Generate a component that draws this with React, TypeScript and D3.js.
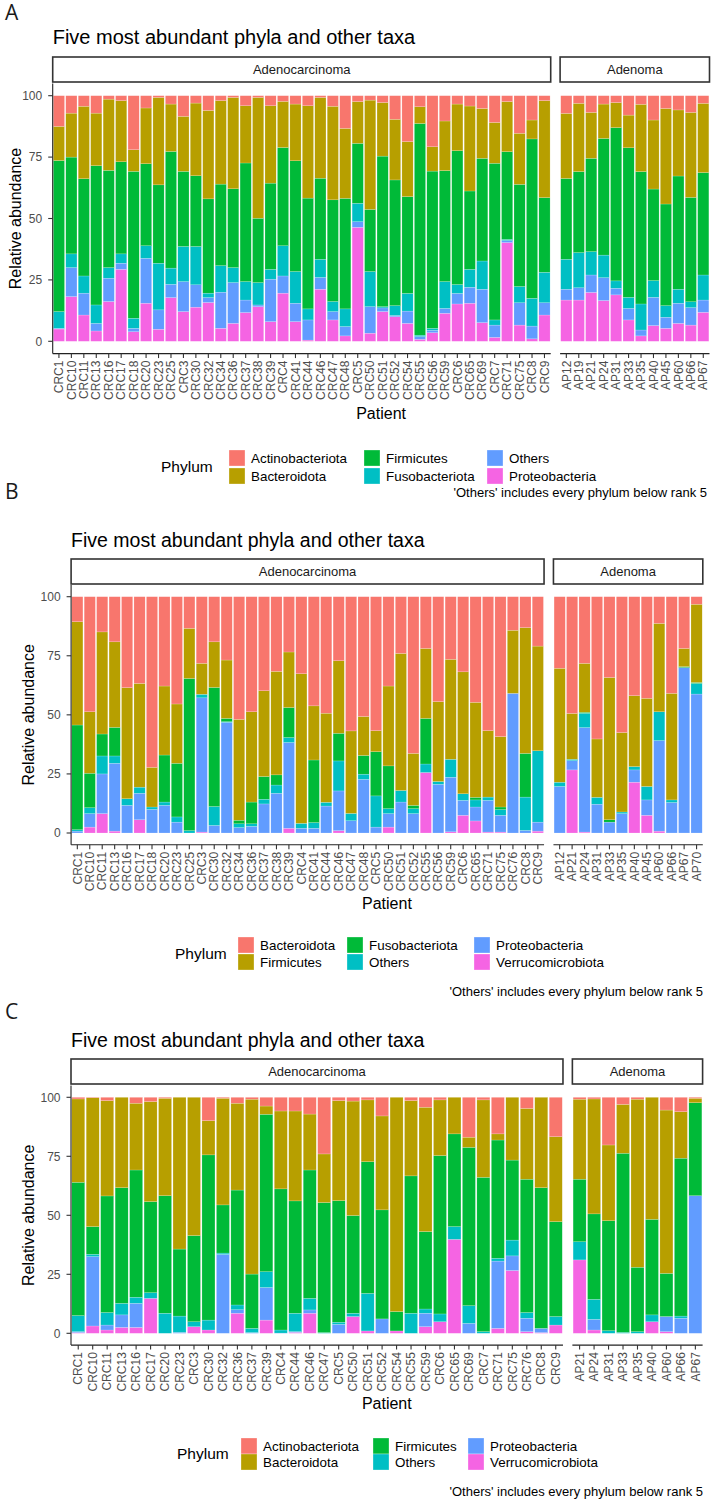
import React from 'react';
import * as d3 from 'd3';

const W = 711;
const H = 1500;
const FONT = "'Liberation Sans', Arial, Helvetica, sans-serif";
const HUE = ['#F8766D', '#B79F00', '#00BA38', '#00BFC4', '#619CFF', '#F564E3'];
const TITLE = 'Five most abundant phyla and other taxa';
const NOTE = "'Others' includes every phylum below rank 5";

// ── Panel A ────────────────────────────────────────────────────────────
const aCrc = ['CRC1', 'CRC10', 'CRC11', 'CRC13', 'CRC16', 'CRC17', 'CRC18', 'CRC20', 'CRC23', 'CRC25',
  'CRC3', 'CRC30', 'CRC32', 'CRC34', 'CRC36', 'CRC37', 'CRC38', 'CRC39', 'CRC4', 'CRC41',
  'CRC44', 'CRC46', 'CRC47', 'CRC48', 'CRC5', 'CRC50', 'CRC51', 'CRC52', 'CRC54', 'CRC55',
  'CRC56', 'CRC59', 'CRC6', 'CRC65', 'CRC69', 'CRC7', 'CRC71', 'CRC75', 'CRC8', 'CRC9'];
const aAp = ['AP12', 'AP19', 'AP21', 'AP24', 'AP31', 'AP33', 'AP35', 'AP40', 'AP45', 'AP60', 'AP66', 'AP67'];
const aPhyla = ['Actinobacteriota', 'Bacteroidota', 'Firmicutes', 'Fusobacteriota', 'Others', 'Proteobacteria'];
// values per phylum, CRC patients first then AP patients
const aActino = [12.5, 7.1, 4.3, 7.1, 1.4, 2, 22, 5, 0.7, 3.4, 8.4, 3, 6, 2, 0.7, 4.1, 0.7, 4.1, 2.3, 3.4,
  4.1, 0.7, 4.3, 13.3, 2.4, 1.8, 2.8, 9.6, 18.7, 4.5, 20.8, 10.3, 3.4, 4.2, 5.2, 10.9, 2.4, 15.3, 9.9, 2,
  7.2, 3.1, 6.8, 3.4, 2.8, 7.9, 3.5, 9.9, 5.2, 5.8, 6.8, 3.1];
const aBactero = [13.9, 17.9, 29.5, 21.4, 29, 24.9, 8.8, 22.7, 35.6, 19.3, 22.4, 29.6, 36, 34, 37.2, 23.3, 49.2, 31.5, 18.8, 23.1,
  37.6, 32.9, 38.1, 28.5, 17, 44.5, 21.8, 24.7, 22.4, 6.8, 9.9, 20.2, 19, 34.6, 20.3, 16.6, 20.4, 20.8, 7.7, 39.5,
  26.5, 27.8, 18.7, 14, 10.2, 13.3, 27.4, 28.1, 38.9, 26.9, 34.6, 28.2];
const aFirmi = [61.5, 39.4, 39.6, 56.7, 39.6, 37.5, 59.8, 33.4, 31.9, 47.5, 30.6, 28.8, 38.4, 33.2, 32.1, 48.3, 26.2, 35.1, 40, 45.1,
  45.1, 33, 41.4, 45, 24.4, 25.3, 61.3, 51.2, 39.4, 86.2, 64, 45.2, 54.5, 31.9, 41.8, 63.8, 35.7, 41.6, 64.9, 30.4,
  32.9, 33, 38, 47.5, 62.4, 60.9, 53.9, 37.3, 41.4, 46.1, 42.5, 41.7];
const aFuso = [6.8, 5.6, 7, 7.5, 4.3, 3.8, 4.1, 5.1, 19, 6.6, 14.3, 15.6, 1.8, 10.8, 6.1, 7.5, 9.1, 4, 12.3, 12.9,
  4.5, 7.4, 4.1, 7.2, 7.5, 14.3, 0.5, 4, 7.2, 0.6, 0.8, 10.9, 3.6, 7.3, 11.5, 2.1, 0.5, 6.6, 11.3, 12.4,
  12.2, 14.3, 9.5, 9.2, 3, 4.5, 10.6, 6.8, 4.7, 5.7, 2.4, 10.2];
const aOthers = [0.3, 11.8, 8.9, 3.1, 9.5, 2.5, 1.4, 18.3, 7.9, 5.4, 12.2, 9.1, 2, 14.7, 16.6, 5.1, 0.7, 17.3, 7, 7.5,
  8.2, 4.8, 3.4, 3.8, 2.3, 10.8, 1.5, 0.5, 5, 1.1, 1, 2, 4.3, 6.5, 13.6, 5, 0.8, 9.1, 5.2, 5,
  4.4, 5, 7.1, 9.3, 2.7, 4.7, 2.4, 11.5, 4.5, 8.2, 7.1, 5];
const aProteo = [5, 18.2, 10.7, 4.2, 16.2, 29.3, 3.9, 15.5, 4.9, 17.8, 12.1, 13.9, 15.8, 5.3, 7.3, 11.7, 14.1, 8, 19.6, 8,
  0.5, 21.2, 8.7, 2.2, 46.4, 3.3, 12.1, 10, 7.3, 0.8, 3.5, 11.4, 15.2, 15.5, 7.6, 1.6, 40.2, 6.6, 1, 10.7,
  16.8, 16.8, 19.9, 16.6, 18.9, 8.7, 2.2, 6.4, 5.3, 7.3, 6.6, 11.8];

// ── Panel B ────────────────────────────────────────────────────────────
const bCrc = ['CRC1', 'CRC10', 'CRC11', 'CRC13', 'CRC16', 'CRC17', 'CRC18', 'CRC20', 'CRC23', 'CRC25',
  'CRC3', 'CRC30', 'CRC32', 'CRC34', 'CRC36', 'CRC37', 'CRC38', 'CRC39', 'CRC4', 'CRC41',
  'CRC44', 'CRC46', 'CRC47', 'CRC48', 'CRC5', 'CRC50', 'CRC51', 'CRC52', 'CRC55', 'CRC56',
  'CRC59', 'CRC6', 'CRC65', 'CRC71', 'CRC75', 'CRC76', 'CRC8', 'CRC9'];
const bAp = ['AP12', 'AP21', 'AP24', 'AP31', 'AP33', 'AP35', 'AP40', 'AP45', 'AP60', 'AP66', 'AP67', 'AP70'];
const bPhyla = ['Bacteroidota', 'Firmicutes', 'Fusobacteriota', 'Others', 'Proteobacteria', 'Verrucomicrobiota'];
const bBactero = [10.6, 48.7, 14.9, 19.1, 38.5, 36.7, 72.2, 37.8, 45.4, 13.4, 28.2, 19.1, 26.8, 51.9, 48.7, 39.8, 31.6, 23.4, 32.6, 46.2,
  49.3, 27.1, 56.8, 50.7, 56.7, 37.8, 24, 66.3, 21.9, 44.4, 26.5, 31.8, 44.7, 56.7, 59.2, 14.2, 13.1, 20.9,
  30.3, 49.4, 28.2, 60.2, 34.2, 57.5, 41.9, 43, 11.3, 40.9, 21.9, 3.2];
const bFirmi = [43.7, 26, 43.2, 36.2, 47, 43.9, 16.8, 29.2, 25.1, 21.2, 13.1, 19.3, 24.7, 42.7, 38.2, 36.3, 43.8, 23.5, 63.3, 22.9,
  37.7, 30.7, 34.9, 16.5, 8.9, 33.8, 58, 22, 29.6, 33.8, 42.3, 51.6, 40.2, 28.1, 29.8, 26.7, 53.2, 44.3,
  48.2, 19.4, 20.7, 24.7, 60.2, 33.6, 30, 37.3, 37.4, 45.1, 7.7, 33.1];
const bFuso = [44.3, 14.6, 9.3, 12.1, 0, 0, 0, 19.9, 22.7, 64.4, 0, 50.4, 1.4, 1.5, 9.2, 9.6, 4.3, 12.7, 0, 26.5,
  0, 11.7, 0, 7.9, 18.7, 18.1, 0, 1.4, 19.3, 0, 0, 0, 1.1, 0, 1.1, 0, 18.5, 0,
  0, 0, 0.4, 0, 1, 0, 0, 0, 0, 0, 0.4, 0.4];
const bOthers = [0.6, 2.5, 7.6, 3.1, 2.8, 2.6, 1, 1.4, 2.2, 1, 1.5, 8, 0.3, 1.6, 1.1, 2, 3.5, 2.1, 2.1, 2.4,
  1.6, 12.7, 3.1, 2.2, 13.2, 2.1, 4.9, 2.1, 3.6, 1.2, 7.6, 2.8, 3, 1.4, 2.4, 0, 14.1, 30.2,
  1.8, 0.6, 6.1, 2.9, 0, 0.7, 1.4, 5.7, 12.2, 1.1, 0, 4.5];
const bProteo = [0.8, 5.7, 16.8, 28.7, 11.7, 11.2, 10, 11.7, 4.6, 0, 56.8, 3.2, 46.8, 2.3, 2.8, 12.3, 16.8, 36.3, 2, 2,
  11.4, 16.8, 5.2, 22.7, 2.5, 5.7, 13.1, 8.2, 0, 20.6, 23.1, 6.3, 5.9, 13.4, 7.1, 59.1, 1.1, 3.8,
  19.7, 3.9, 44.2, 12.2, 4.6, 8.2, 5.2, 6.5, 38.3, 12.9, 70, 58.8];
const bVerruco = [0, 2.5, 8.2, 0.8, 0, 5.6, 0, 0, 0, 0, 0.4, 0, 0, 0, 0, 0, 0, 2, 0, 0,
  0, 1, 0, 0, 0, 2.5, 0, 0, 25.6, 0, 0.5, 7.5, 5.1, 0.4, 0.4, 0, 0, 0.8,
  0, 26.7, 0.4, 0, 0, 0, 21.5, 7.5, 0.8, 0, 0, 0];

// ── Panel C ────────────────────────────────────────────────────────────
const cCrc = ['CRC1', 'CRC10', 'CRC11', 'CRC13', 'CRC16', 'CRC17', 'CRC20', 'CRC23', 'CRC3', 'CRC30',
  'CRC32', 'CRC36', 'CRC37', 'CRC39', 'CRC4', 'CRC44', 'CRC46', 'CRC47', 'CRC5', 'CRC50',
  'CRC51', 'CRC52', 'CRC54', 'CRC55', 'CRC59', 'CRC6', 'CRC65', 'CRC69', 'CRC7', 'CRC71',
  'CRC75', 'CRC76', 'CRC8', 'CRC9'];
const cAp = ['AP21', 'AP24', 'AP31', 'AP33', 'AP35', 'AP40', 'AP60', 'AP66', 'AP67'];
const cPhyla = ['Actinobacteriota', 'Bacteroidota', 'Firmicutes', 'Others', 'Proteobacteria', 'Verrucomicrobiota'];
const cActino = [0.7, 0.2, 1.4, 0, 2.5, 1.8, 0.4, 0, 0, 9.9, 0.4, 2.5, 0.8, 3.7, 5.8, 5.8, 7.1, 24, 1.4, 1.6,
  1.1, 7.9, 0, 1.4, 4.2, 1.1, 0, 16.9, 1.1, 15.5, 0, 4.7, 0, 16.7,
  0.8, 0.7, 20.2, 3, 0.8, 0, 5.4, 6.1, 0.4];
const cBactero = [35.3, 54.6, 40.4, 38.3, 28.3, 42.4, 41.3, 64.3, 58.6, 14.5, 45.2, 36.8, 74.1, 3.5, 33, 38.1, 23.7, 20.6, 42.4, 48.5,
  26.2, 39.8, 90.8, 31.9, 52.7, 23.6, 15.5, 4.3, 32.8, 2.6, 26.6, 30, 38.3, 36,
  33.9, 48.7, 32.1, 20.7, 71.2, 51.7, 69.2, 19.7, 1.9];
const cFirmi = [56.5, 11.7, 49.4, 49, 53.9, 38.6, 49.8, 28.4, 36.5, 70, 20.4, 48.7, 23, 66.7, 59.8, 47.6, 54.4, 55.1, 51.5, 41.4,
  55.8, 46.2, 8.2, 58.2, 32.8, 67.1, 39.3, 67.1, 65.4, 50.1, 33.9, 56.5, 59.6, 40.2,
  26.5, 36.2, 46.6, 75.9, 27.3, 40.5, 18.3, 66.9, 39.4];
const cOthers = [6.8, 1, 5.3, 4.9, 2.6, 2.4, 8.5, 6.9, 2.1, 4.2, 0.6, 2, 1.8, 6.7, 1.3, 7.8, 4.9, 0.3, 0.9, 1.4,
  15.9, 0, 0, 8.5, 1.8, 3.3, 5.4, 7.5, 0.7, 1.2, 6.7, 2.4, 0, 3.6,
  7.7, 8.5, 1.1, 0.4, 0.7, 2.9, 0, 0.9, 0];
const cProteo = [0.4, 29.4, 2.1, 5.3, 10.2, 0, 0, 0.4, 0, 0, 33.4, 1.5, 0.3, 13.8, 0.1, 0.3, 1.4, 0, 3.8, 0,
  0, 6.1, 0, 0, 5.7, 0, 0, 4.2, 0, 28.5, 6.2, 5.7, 1.8, 0,
  0, 4.5, 0, 0, 0, 0, 6.4, 6.4, 58.3];
const cVerruco = [0.3, 3.1, 1.4, 2.5, 2.5, 14.8, 0, 0, 2.8, 1.4, 0, 8.5, 0, 5.6, 0, 0.4, 8.5, 0, 0, 7.1,
  1, 0, 1, 0, 2.8, 4.9, 39.8, 0, 0, 2.1, 26.6, 0.7, 0.3, 3.5,
  31.1, 1.4, 0, 0, 0, 4.9, 0.7, 0, 0];

const yTicks = [0, 25, 50, 75, 100];

const panels = [
  {
    letter: 'A', phyla: aPhyla, crc: aCrc, ap: aAp,
    series: [aActino, aBactero, aFirmi, aFuso, aOthers, aProteo],
    lay: {
      letterX: 5, letterY: 20, left: 52.7, right: 709.5, gap: 9.4, titleY: 44, titleSize: 20,
      stripTop: 57, stripBottom: 82, y100: 95.7, y0: 341.3, yTitleX: 15,
      patientY: 419, rows: [458, 476], phylumX: 161, keyX: [229, 364, 487], noteX: 707, noteY: 497,
    },
  },
  {
    letter: 'B', phyla: bPhyla, crc: bCrc, ap: bAp,
    series: [bBactero, bFirmi, bFuso, bOthers, bProteo, bVerruco],
    lay: {
      letterX: 5, letterY: 499, left: 71.1, right: 702.8, gap: 9.4, titleY: 547, titleSize: 19.5,
      stripTop: 559, stripBottom: 584, y100: 596.7, y0: 833, yTitleX: 28,
      patientY: 909, rows: [945, 962], phylumX: 175, keyX: [238, 347, 474], noteX: 703, noteY: 996,
    },
  },
  {
    letter: 'C', phyla: cPhyla, crc: cCrc, ap: cAp,
    series: [cActino, cBactero, cFirmi, cOthers, cProteo, cVerruco],
    lay: {
      letterX: 5, letterY: 1019, left: 71, right: 702.6, gap: 9.4, titleY: 1047, titleSize: 19.5,
      stripTop: 1059, stripBottom: 1084, y100: 1097.3, y0: 1333.3, yTitleX: 28,
      patientY: 1409, rows: [1446, 1462], phylumX: 177, keyX: [241, 373, 468], noteX: 703, noteY: 1496,
    },
  },
];

function Panel({ p }: { p: (typeof panels)[number] }) {
  const L = p.lay;
  const patients = [...p.crc, ...p.ap];
  const rows = patients.map((id, i) => {
    const r: Record<string, any> = { id };
    p.phyla.forEach((ph, j) => (r[ph] = p.series[j][i]));
    return r;
  });
  // ggplot stacks the first level on top, so stack from the last one up
  const keysUp = [...p.phyla].reverse();
  const stacked = d3.stack<Record<string, any>>().keys(keysUp)(rows);

  const unit = (L.right - L.left - L.gap) / patients.length;
  const crcEnd = L.left + p.crc.length * unit;
  const facets = [
    { name: 'Adenocarcinoma', ids: p.crc, r: [L.left, crcEnd] },
    { name: 'Adenoma', ids: p.ap, r: [crcEnd + L.gap, L.right] },
  ].map((f) => ({
    ...f,
    x: d3.scaleBand<string>().domain(f.ids).range(f.r as [number, number]).paddingInner(0.1).paddingOuter(0.05),
  }));
  const xOf = (id: string) => {
    for (const f of facets) if (f.x(id) !== undefined) return { f, x: f.x(id) as number };
    return { f: facets[0], x: 0 };
  };

  const y = d3.scaleLinear().domain([0, 100]).range([L.y0, L.y100]);
  const top = y(105);
  const bot = y(-5);
  const color = d3.scaleOrdinal<string, string>().domain(p.phyla).range(HUE);
  const tickLen = 4.5;

  return (
    <g>
      <text x={L.letterX} y={L.letterY} fontFamily="'Open Sans', 'DejaVu Sans', sans-serif" fontSize={21} fill="#1a1a1a">
        {p.letter}
      </text>
      <text x={L.left} y={L.titleY} fontFamily={FONT} fontSize={L.titleSize} fill="#000">
        {TITLE}
      </text>

      {/* strips */}
      {facets.map((f) => (
        <g key={f.name}>
          <rect x={f.r[0]} y={L.stripTop} width={f.r[1] - f.r[0]} height={L.stripBottom - L.stripTop}
            fill="#fff" stroke="#333" strokeWidth={1.6} />
          <text x={(f.r[0] + f.r[1]) / 2} y={(L.stripTop + L.stripBottom) / 2} dy="0.36em" textAnchor="middle"
            fontFamily={FONT} fontSize={13} fill="#1a1a1a">
            {f.name}
          </text>
        </g>
      ))}

      {/* bars */}
      {stacked.map((s) => (
        <g key={s.key} fill={color(s.key)}>
          {s.map((d) => {
            const { f, x } = xOf(d.data.id);
            const h = y(d[0]) - y(d[1]);
            if (h <= 0) return null;
            return (
              <rect key={d.data.id} x={x} y={y(d[1])} width={f.x.bandwidth()} height={h}
                stroke="#fff" strokeOpacity={0.45} strokeWidth={0.4} />
            );
          })}
        </g>
      ))}

      {/* y axis */}
      <line x1={L.left} x2={L.left} y1={top} y2={bot} stroke="#222" strokeWidth={1.1} />
      {yTicks.map((t) => (
        <g key={t}>
          <line x1={L.left - tickLen} x2={L.left} y1={y(t)} y2={y(t)} stroke="#333" strokeWidth={1.1} />
          <text x={L.left - tickLen - 6} y={y(t)} dy="0.35em" textAnchor="end" fontFamily={FONT} fontSize={12} fill="#4d4d4d">
            {t}
          </text>
        </g>
      ))}
      <text transform={`translate(${L.yTitleX},${(L.y0 + L.y100) / 2}) rotate(-90)`} dy="0.35em" textAnchor="middle"
        fontFamily={FONT} fontSize={16} fill="#000">
        Relative abundance
      </text>

      {/* x axes */}
      {facets.map((f) => (
        <g key={f.name}>
          <line x1={f.r[0]} x2={f.r[1]} y1={bot} y2={bot} stroke="#222" strokeWidth={1.1} />
          {f.ids.map((id) => {
            const cx = (f.x(id) as number) + f.x.bandwidth() / 2;
            return (
              <g key={id}>
                <line x1={cx} x2={cx} y1={bot} y2={bot + tickLen} stroke="#333" strokeWidth={1.1} />
                <text transform={`translate(${cx},${bot + tickLen + 2.5}) rotate(-90)`} dy="0.35em" textAnchor="end"
                  fontFamily={FONT} fontSize={12} fill="#4d4d4d">
                  {id}
                </text>
              </g>
            );
          })}
        </g>
      ))}
      <text x={(L.left + L.right) / 2} y={L.patientY} textAnchor="middle" fontFamily={FONT} fontSize={16} fill="#000">
        Patient
      </text>

      {/* legend */}
      <text x={L.phylumX} y={(L.rows[0] + L.rows[1]) / 2} dy="0.35em" fontFamily={FONT} fontSize={15.5} fill="#000">
        Phylum
      </text>
      {p.phyla.map((ph, i) => {
        const col = Math.floor(i / 2);
        const cy = L.rows[i % 2];
        return (
          <g key={ph}>
            <rect x={L.keyX[col]} y={cy - 8} width={16} height={16} fill={color(ph)} stroke="#fff" strokeOpacity={0.5} strokeWidth={0.6} />
            <text x={L.keyX[col] + 22} y={cy} dy="0.35em" fontFamily={FONT} fontSize={13.4} fill="#000">
              {ph}
            </text>
          </g>
        );
      })}
      <text x={L.noteX} y={L.noteY} textAnchor="end" fontFamily={FONT} fontSize={13} fill="#000">
        {NOTE}
      </text>
    </g>
  );
}

export default function App() {
  return (
    <div style={{ position: 'absolute', left: 0, top: 0, width: W, height: H, background: '#fff' }}>
      <svg width={W} height={H} viewBox={`0 0 ${W} ${H}`} style={{ display: 'block' }}>
        {panels.map((p) => (
          <Panel key={p.letter} p={p} />
        ))}
      </svg>
    </div>
  );
}
